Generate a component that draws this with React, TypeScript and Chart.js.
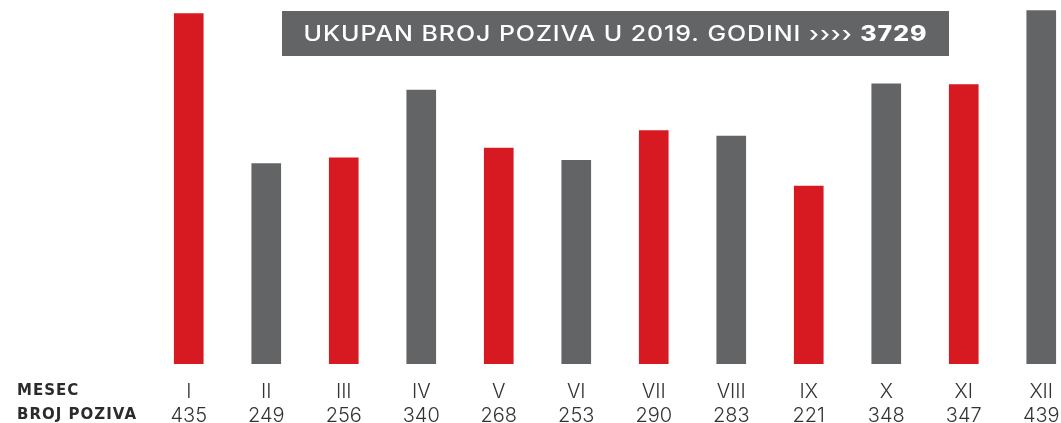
import React, { useEffect, useRef } from "react";
import { Chart, registerables } from "chart.js";

Chart.register(...registerables);

const months = ["I", "II", "III", "IV", "V", "VI", "VII", "VIII", "IX", "X", "XI", "XII"];
const calls = [435, 249, 256, 340, 268, 253, 290, 283, 221, 348, 347, 439];
const rowTitles = ["MESEC", "BROJ POZIVA"];
const headline = "UKUPAN BROJ POZIVA U 2019. GODINI ›››› ";
const total = 3729;

const RED = "#d71a21";
const GRAY = "#636466";
const TEXT = "#333333";
const FONT = 'Inter, "Noto Sans", sans-serif';
const WIDE = '"DejaVu Sans", Inter, sans-serif';

const barColors = months.map((_, i) => (i % 2 === 0 ? RED : GRAY));

function spacedWidth(ctx: CanvasRenderingContext2D, s: string, sp: number) {
  (ctx as any).letterSpacing = `${sp}px`;
  return ctx.measureText(s).width;
}

const overlayPlugin = {
  id: "overlay",
  afterDraw(chart: any) {
    const ctx = chart.ctx as CanvasRenderingContext2D;
    ctx.save();
    // headline box
    const bx = 282, by = 11, bw = 667, bh = 45;
    ctx.fillStyle = GRAY;
    ctx.fillRect(bx, by, bw, bh);
    ctx.textBaseline = "middle";
    ctx.textAlign = "left";
    const normalFont = `500 21px ${FONT}`;
    const boldFont = `800 21px ${FONT}`;
    const totalStr = String(total);
    const target = 624;
    const sp = 0.8;
    ctx.font = normalFont;
    const w1 = spacedWidth(ctx, headline, sp);
    ctx.font = boldFont;
    const w2 = spacedWidth(ctx, totalStr, sp);
    const sx = target / (w1 + w2);
    const startX = bx + bw / 2 - target / 2;
    const ty = by + bh / 2 + 1;
    ctx.save();
    ctx.translate(startX, ty);
    ctx.scale(sx, 1);
    ctx.fillStyle = "#ffffff";
    ctx.font = normalFont;
    (ctx as any).letterSpacing = `${sp}px`;
    ctx.fillText(headline, 0, 0);
    ctx.font = boldFont;
    ctx.fillText(totalStr, w1, 0);
    ctx.restore();
    // row titles
    ctx.fillStyle = "#2b2b2b";
    ctx.font = `700 15px ${WIDE}`;
    const nT = spacedWidth(ctx, rowTitles[1], 0);
    const spT = (120 - nT) / rowTitles[1].length;
    (ctx as any).letterSpacing = `${spT}px`;
    ctx.fillText(rowTitles[0], 17, 391);
    ctx.fillText(rowTitles[1], 17, 415);
    (ctx as any).letterSpacing = "0px";
    ctx.restore();
  },
};

export default function App() {
  const ref = useRef<HTMLCanvasElement | null>(null);
  useEffect(() => {
    if (!ref.current) return;
    const chart = new Chart(ref.current, {
      type: "bar",
      data: {
        labels: months.map((m, i) => [m, String(calls[i])]),
        datasets: [
          {
            data: calls,
            backgroundColor: barColors,
            barThickness: 29,
            borderWidth: 0,
          },
        ],
      },
      options: {
        responsive: false,
        animation: false,
        devicePixelRatio: 1,
        layout: { padding: { left: 150, right: 10, top: 0, bottom: 0 } },
        plugins: { legend: { display: false }, tooltip: { enabled: false } },
        scales: {
          x: {
            grid: { display: false, drawTicks: false },
            border: { display: false },
            ticks: {
              color: TEXT,
              font: { family: FONT, size: 20, weight: 300 as any, lineHeight: 1.2 },
              padding: 16,
              maxRotation: 0,
              autoSkip: false,
            },
          },
          y: { display: false, min: 0, max: 452 },
        },
      },
      plugins: [overlayPlugin],
    });
    return () => chart.destroy();
  }, []);
  return (
    <div
      style={{
        position: "fixed",
        left: 0,
        top: 0,
        width: 1061,
        height: 423,
        overflow: "hidden",
        background: "#fff",
      }}
    >
      <canvas ref={ref} width={1090} height={444} style={{ display: "block" }} />
    </div>
  );
}
